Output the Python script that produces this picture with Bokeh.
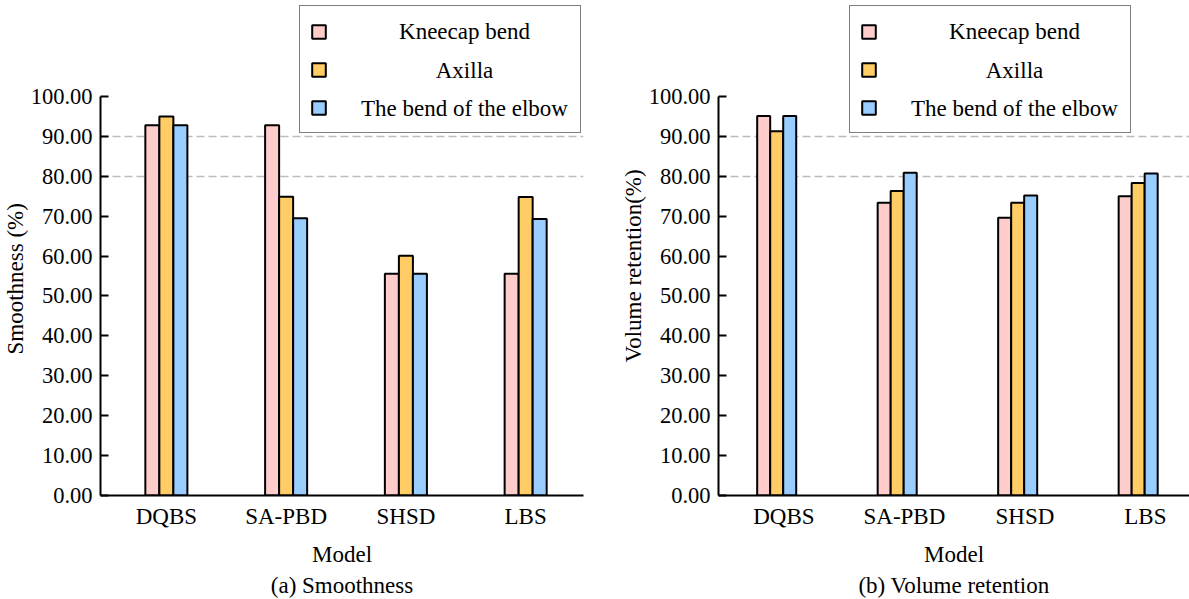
from bokeh.plotting import figure
from bokeh.layouts import row
from bokeh.models import (Range1d, FixedTicker, PrintfTickFormatter, Legend, LegendItem,
                          Label, Title, ColumnDataSource)
from bokeh.core.properties import value
from bokeh.embed import file_html
from bokeh.resources import INLINE

# ---- data ----
models = ["DQBS", "SA-PBD", "SHSD", "LBS"]
series = ["Kneecap bend", "Axilla", "The bend of the elbow"]
colors = ["#FFCCCC", "#FFCC66", "#99CCFF"]

smooth_kneecap = [92.8, 92.8, 55.6, 55.6]
smooth_axilla = [95.0, 74.9, 60.1, 74.8]
smooth_elbow = [92.8, 69.5, 55.6, 69.3]

volume_kneecap = [95.1, 73.4, 69.6, 75.0]
volume_axilla = [91.3, 76.3, 73.4, 78.3]
volume_elbow = [95.1, 80.9, 75.2, 80.7]

y_ticks = [0, 10, 20, 30, 40, 50, 60, 70, 80, 90, 100]
grid_ticks = [80, 90]

FONT = "Liberation Serif"
FS = "23px"
FS_TICK = "22.5px"


def make_panel(vals, ylabel, caption, width, border_left, border_right,
               x_start, x_end, bar_w, shift, legend_left, text_cx, ylabel_offset):
    p = figure(width=width, height=599, output_backend="svg", toolbar_location=None,
               x_range=Range1d(x_start, x_end), y_range=Range1d(0, 124.06),
               min_border_left=border_left, min_border_right=border_right,
               min_border_top=0, min_border_bottom=104)
    p.outline_line_color = None
    p.background_fill_color = "white"
    p.border_fill_color = "white"

    idx = list(range(len(models)))
    renderers = []
    for k, (v, c) in enumerate(zip(vals, colors)):
        xs = [i + shift + (k - 1) * bar_w for i in idx]
        src = ColumnDataSource(dict(x=xs, top=v, model=models))
        r = p.vbar(x="x", top="top", bottom=0, width=bar_w, source=src,
                   fill_color=c, line_color="black", line_width=2)
        renderers.append(r)

    # axes
    xa = p.xaxis[0]
    xa.ticker = FixedTicker(ticks=idx)
    xa.major_label_overrides = {i: m for i, m in zip(idx, models)}
    xa.major_tick_in = 0
    xa.major_tick_out = 0
    xa.minor_tick_line_color = None
    xa.axis_line_width = 2
    xa.axis_line_color = "black"
    xa.major_label_text_font = FONT
    xa.major_label_text_font_size = FS
    xa.major_label_text_color = "black"
    xa.major_label_standoff = 8
    xa.axis_label = "Model"
    xa.axis_label_text_font = FONT
    xa.axis_label_text_font_size = FS
    xa.axis_label_text_font_style = "normal"
    xa.axis_label_text_color = "black"
    xa.axis_label_standoff = 10

    ya = p.yaxis[0]
    ya.bounds = (0, 100)
    ya.ticker = FixedTicker(ticks=y_ticks)
    ya.formatter = PrintfTickFormatter(format="%.2f")
    ya.major_tick_in = 8
    ya.major_tick_out = 0
    ya.major_tick_line_width = 2
    ya.major_tick_line_color = "black"
    ya.minor_tick_line_color = None
    ya.axis_line_width = 2
    ya.axis_line_color = "black"
    ya.major_label_text_font = FONT
    ya.major_label_text_font_size = FS_TICK
    ya.major_label_text_color = "black"
    ya.major_label_standoff = 8

    # y-axis title, positioned along the 0-100 axis span
    p.add_layout(Title(text=ylabel, align="left", offset=ylabel_offset, text_font=FONT,
                       text_font_size=FS, text_font_style="normal", text_color="black",
                       standoff=0), "left")

    p.xgrid.grid_line_color = None
    p.ygrid.ticker = FixedTicker(ticks=grid_ticks)
    p.ygrid.grid_line_color = "#BBBBBB"
    p.ygrid.grid_line_width = 1.5
    p.ygrid.grid_line_dash = "8 4"

    # legend (box + swatches), labels drawn centred on top
    items = [LegendItem(label=value(" "), renderers=[r]) for r in renderers]
    legend = Legend(items=items, location=(legend_left, 362), orientation="vertical",
                    padding=10, spacing=8, glyph_width=17, glyph_height=17,
                    label_standoff=5, label_width=238, label_height=30, margin=0,
                    border_line_color="black", border_line_width=1.5,
                    background_fill_alpha=0.0,
                    label_text_font=FONT, label_text_font_size=FS)
    p.add_layout(legend)
    for k, name in enumerate(series):
        p.add_layout(Label(x=text_cx, y=464 - 38.5 * k, x_units="screen", y_units="screen",
                           text=name, text_align="center", text_baseline="middle",
                           text_font=FONT, text_font_size=FS, text_color="black"))

    p.add_layout(Title(text=caption, align="center", text_font=FONT, text_font_size=FS,
                       text_font_style="normal", text_color="black", standoff=3), "below")
    return p


p1 = make_panel([smooth_kneecap, smooth_axilla, smooth_elbow], "Smoothness (%)",
                "(a) Smoothness", 600, 99, 17, -0.55, 3.483, 0.117, 0.0, 199, 364, 141)
p2 = make_panel([volume_kneecap, volume_axilla, volume_elbow], "Volume retention(%)",
                "(b) Volume retention", 589, 118, 0, -0.543, 3.366, 0.108, -0.06, 131, 296, 133)

layout = row(p1, p2)
open("out.html", "w").write(file_html(layout, INLINE))
